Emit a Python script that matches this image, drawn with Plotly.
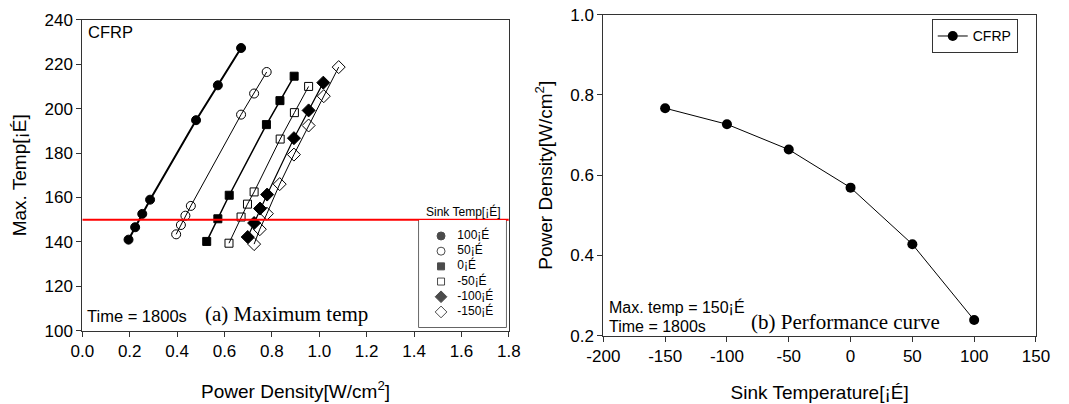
import plotly.graph_objects as go

# ---------------- data: (a) Maximum temp ----------------
sink_labels = ["100¡É", "50¡É", "0¡É", "-50¡É", "-100¡É", "-150¡É"]

pd_100 = [0.195, 0.223, 0.253, 0.286, 0.480, 0.572, 0.670]
mt_100 = [141.0, 146.6, 152.6, 159.0, 194.8, 210.5, 227.3]

pd_50 = [0.396, 0.416, 0.435, 0.458, 0.670, 0.725, 0.778]
mt_50 = [143.4, 147.6, 151.8, 156.2, 197.3, 206.8, 216.5]

pd_0 = [0.525, 0.572, 0.620, 0.777, 0.834, 0.894]
mt_0 = [140.2, 150.4, 161.0, 192.8, 203.6, 214.6]

pd_m50 = [0.619, 0.670, 0.697, 0.725, 0.835, 0.895, 0.955]
mt_m50 = [139.4, 151.2, 157.0, 162.5, 186.3, 198.2, 210.0]

pd_m100 = [0.698, 0.725, 0.750, 0.780, 0.893, 0.955, 1.017]
mt_m100 = [142.2, 148.5, 155.0, 161.3, 186.7, 199.2, 211.7]

pd_m150 = [0.725, 0.749, 0.779, 0.833, 0.893, 0.955, 1.019, 1.082]
mt_m150 = [139.0, 145.7, 152.7, 166.0, 179.3, 192.4, 205.6, 218.7]

limit_temp = 150

x1_ticks = [0.0, 0.2, 0.4, 0.6, 0.8, 1.0, 1.2, 1.4, 1.6, 1.8]
x1_ticklabels = ["0.0", "0.2", "0.4", "0.6", "0.8", "1.0", "1.2", "1.4", "1.6", "1.8"]
y1_ticks = [100, 120, 140, 160, 180, 200, 220, 240]

# ---------------- data: (b) Performance curve ----------------
sink_temp = [-150, -100, -50, 0, 50, 100]
power_at_limit = [0.767, 0.727, 0.664, 0.569, 0.428, 0.239]

x2_ticks = [-200, -150, -100, -50, 0, 50, 100, 150]
x2_ticklabels = ["-200", "-150", "-100", "-50", "0", "50", "100", "150"]
y2_ticks = [0.2, 0.4, 0.6, 0.8, 1.0]
y2_ticklabels = ["0.2", "0.4", "0.6", "0.8", "1.0"]

SANS = "Liberation Sans, Arial, sans-serif"
SERIF = "Liberation Serif, Times New Roman, serif"

series = [
    (pd_100, mt_100, "circle", 9, 2.0),
    (pd_50, mt_50, "circle-open", 9, 1.0),
    (pd_0, mt_0, "square", 8, 1.5),
    (pd_m50, mt_m50, "square-open", 8, 1.0),
    (pd_m100, mt_m100, "diamond", 10, 1.2),
    (pd_m150, mt_m150, "diamond-open", 10, 1.0),
]

fig = go.Figure()

for (xs, ys, sym, sz, lw), lab in zip(series, sink_labels):
    fig.add_trace(go.Scatter(
        x=xs, y=ys, mode="lines+markers", xaxis="x", yaxis="y",
        line=dict(color="black", width=lw),
        marker=dict(symbol=sym, size=sz, color="black",
                    line=dict(color="black", width=1)),
        showlegend=False, name=lab))

# red limit line
fig.add_trace(go.Scatter(
    x=[x1_ticks[0], x1_ticks[-1]], y=[limit_temp, limit_temp], mode="lines",
    xaxis="x", yaxis="y", line=dict(color="#ff0000", width=2),
    showlegend=False, hoverinfo="skip"))

# hand-built legend for panel (a), on its own hidden axes (rows = series index)
rows = list(range(len(sink_labels)))
fig.add_trace(go.Scatter(
    x=[0.253] * len(rows), y=rows, mode="markers", xaxis="x3", yaxis="y3",
    marker=dict(symbol=[s[2] for s in series], size=[s[3] - 1 for s in series],
                color="black", line=dict(color="black", width=1)),
    showlegend=False, hoverinfo="skip"))
fig.add_trace(go.Scatter(
    x=[0.44] * len(rows), y=rows, mode="text", xaxis="x3", yaxis="y3",
    text=sink_labels, textposition="middle right",
    textfont=dict(family=SANS, size=12, color="black"),
    showlegend=False, hoverinfo="skip"))

# performance curve
fig.add_trace(go.Scatter(
    x=sink_temp, y=power_at_limit, mode="lines+markers", xaxis="x2", yaxis="y2",
    line=dict(color="black", width=1),
    marker=dict(symbol="circle", size=10, color="black"),
    name="CFRP", showlegend=True))

axis_common = dict(
    showline=True, linecolor="#333", linewidth=1, mirror=True,
    ticks="outside", ticklen=5, tickwidth=1, tickcolor="#333",
    showgrid=False, zeroline=False, automargin=False,
    tickfont=dict(family=SANS, size=17, color="black"),
)

fig.update_layout(
    width=1069, height=404,
    margin=dict(l=0, r=0, t=0, b=0),
    paper_bgcolor="white", plot_bgcolor="white",
    xaxis=dict(axis_common, domain=[0.077, 0.476], range=[0, 1.8],
               tickvals=x1_ticks, ticktext=x1_ticklabels,
               title=dict(text="Power Density[W/cm<sup>2</sup>]", standoff=24,
                          font=dict(family=SANS, size=19, color="black"))),
    yaxis=dict(axis_common, domain=[0.1814, 0.951], range=[100, 240],
               tickvals=y1_ticks,
               title=dict(text="Max. Temp[¡É]", standoff=12,
                          font=dict(family=SANS, size=19, color="black"))),
    xaxis2=dict(axis_common, domain=[0.5644, 0.9691], range=[-200, 150],
                tickvals=x2_ticks, ticktext=x2_ticklabels, anchor="y2",
                title=dict(text="Sink Temperature[¡É]", standoff=20,
                           font=dict(family=SANS, size=19, color="black"))),
    yaxis2=dict(axis_common, domain=[0.169, 0.9636], range=[0.2, 1.0],
                tickvals=y2_ticks, ticktext=y2_ticklabels, anchor="x2",
                title=dict(text="Power Density[W/cm<sup>2</sup>]", standoff=12,
                           font=dict(family=SANS, size=19, color="black"))),
    xaxis3=dict(domain=[0.392, 0.4733], range=[0, 1], visible=False,
                anchor="y3", fixedrange=True),
    yaxis3=dict(domain=[0.1906, 0.4554], range=[5.99, -1.05], visible=False,
                anchor="x3", fixedrange=True),
    legend=dict(x=0.8716, y=0.952, xanchor="left", yanchor="top",
                bgcolor="white", bordercolor="#333", borderwidth=1,
                font=dict(family=SANS, size=14, color="black")),
    shapes=[dict(type="rect", xref="x3 domain", yref="y3 domain",
                 x0=0, x1=1, y0=0, y1=1, line=dict(color="#333", width=1.5),
                 fillcolor="white", layer="below")],
)

annotations = [
    dict(text="CFRP", x=0.0805, y=0.92, xanchor="left", yanchor="middle",
         font=dict(family=SANS, size=16.5, color="black")),
    dict(text="Time = 1800s", x=0.0795, y=0.218, xanchor="left", yanchor="middle",
         font=dict(family=SANS, size=16.5, color="black")),
    dict(text="(a) Maximum temp", x=0.19, y=0.223, xanchor="left", yanchor="middle",
         font=dict(family=SERIF, size=21, color="black")),
    dict(text="Sink Temp[¡É]", x=0.4327, y=0.4777, xanchor="center", yanchor="middle",
         font=dict(family=SANS, size=12, color="black")),
    dict(text="Max. temp = 150¡É", x=0.5675, y=0.24, xanchor="left", yanchor="middle",
         font=dict(family=SANS, size=16, color="black")),
    dict(text="Time = 1800s", x=0.5675, y=0.193, xanchor="left", yanchor="middle",
         font=dict(family=SANS, size=16, color="black")),
    dict(text="(b) Performance curve", x=0.7005, y=0.203, xanchor="left", yanchor="middle",
         font=dict(family=SERIF, size=21, color="black")),
]
for a in annotations:
    a.update(xref="paper", yref="paper", showarrow=False)
fig.update_layout(annotations=annotations)

fig.write_html("out.html", config={"displayModeBar": False},
               post_script="document.body.style.margin='0';")
